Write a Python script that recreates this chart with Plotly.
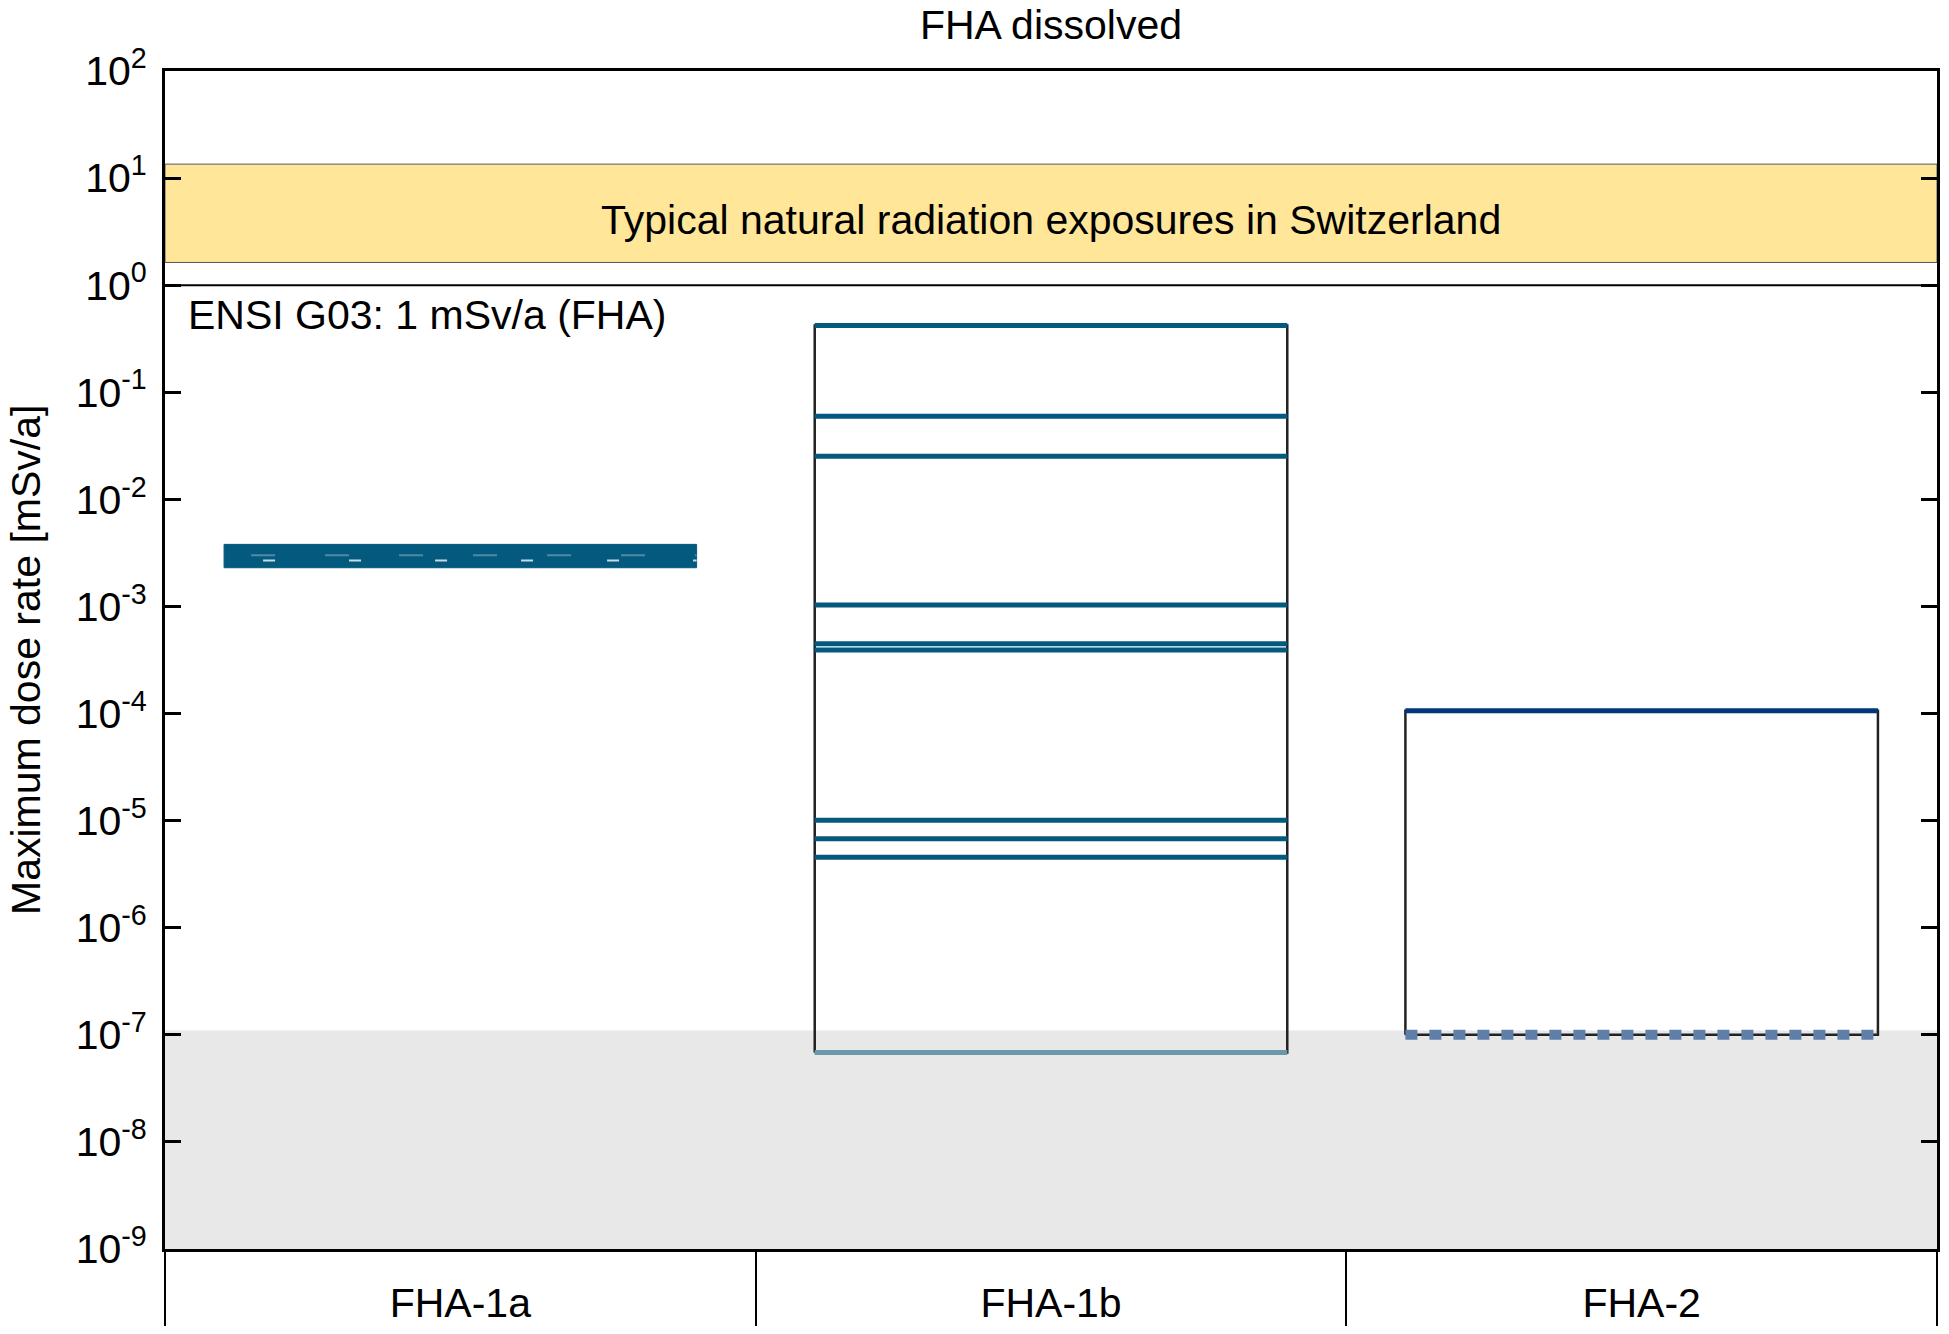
import plotly.graph_objects as go

# Категории (сценарии) и их позиции на оси x
categories = ["FHA-1a", "FHA-1b", "FHA-2"]
cat_pos = [0.5, 1.5, 2.5]
box_half = 0.4

# Диапазоны фона, mSv/a
natural_band = [1.63, 13.5]
negligible_band = [1e-9, 1.1e-7]
ensi_limit = 1.0

# FHA-1a: плотная полоса из множества кривых
fha1a_band = [2.3e-3, 3.8e-3]
fha1a_inner = [3.0e-3, 2.68e-3]

# FHA-1b: максимальные дозы отдельных случаев
fha1b_lines = [0.42, 0.0596, 0.0253, 1.03e-3, 4.49e-4, 3.93e-4,
               1.01e-5, 6.78e-6, 4.54e-6]
fha1b_low = 6.84e-8

# FHA-2
fha2_top = 1.06e-4
fha2_low = 1.0e-7

y_ticks = [10.0 ** k for k in range(-9, 3)]
y_ticktext = ["10<sup>%d</sup>" % k for k in range(-9, 3)]

FONT = "Liberation Sans, Arial, sans-serif"
DARK = "#035A7E"

fig = go.Figure()

# серая область (пренебрежимо малые дозы)
lo, hi = negligible_band
fig.add_trace(go.Scatter(x=[0, 3, 3, 0, 0], y=[lo, lo, hi, hi, lo], fill="toself",
                         fillcolor="#E8E8E8", line=dict(width=0), mode="lines"))

# естественный радиационный фон
lo, hi = natural_band
fig.add_trace(go.Scatter(x=[0, 3, 3, 0, 0], y=[lo, lo, hi, hi, lo], fill="toself",
                         fillcolor="#FFE699", line=dict(color="#555555", width=1),
                         mode="lines"))

# предел ENSI G03
fig.add_trace(go.Scatter(x=[0, 3], y=[ensi_limit, ensi_limit], mode="lines",
                         line=dict(color="black", width=2)))

# FHA-1a
x0, x1 = cat_pos[0] - box_half, cat_pos[0] + box_half
lo, hi = fha1a_band
fig.add_trace(go.Scatter(x=[x0, x1, x1, x0, x0], y=[lo, lo, hi, hi, lo], fill="toself",
                         fillcolor=DARK, line=dict(color=DARK, width=1), mode="lines"))
fig.add_trace(go.Scatter(x=[x0, x1], y=[fha1a_inner[0]] * 2, mode="lines",
                         line=dict(color="#4F8BA5", width=2, dash="0px,27px,24px,23px")))
fig.add_trace(go.Scatter(x=[x0, x1], y=[fha1a_inner[1]] * 2, mode="lines",
                         line=dict(color="#C9DAE2", width=2, dash="0px,39px,12px,35px")))

# FHA-1b
x0, x1 = cat_pos[1] - box_half, cat_pos[1] + box_half
top = max(fha1b_lines)
fig.add_trace(go.Scatter(x=[x0, x0, x1, x1, x0], y=[fha1b_low, top, top, fha1b_low, fha1b_low],
                         mode="lines", line=dict(color="#222222", width=2.5)))
for v in fha1b_lines:
    fig.add_trace(go.Scatter(x=[x0, x1], y=[v, v], mode="lines",
                             line=dict(color=DARK, width=5)))
fig.add_trace(go.Scatter(x=[x0, x1], y=[fha1b_low, fha1b_low], mode="lines",
                         line=dict(color="#6A97AA", width=5)))

# FHA-2
x0, x1 = cat_pos[2] - box_half, cat_pos[2] + box_half
fig.add_trace(go.Scatter(x=[x0, x0, x1, x1, x0], y=[fha2_low, fha2_top, fha2_top, fha2_low, fha2_low],
                         mode="lines", line=dict(color="#222222", width=2.5)))
fig.add_trace(go.Scatter(x=[x0, x1], y=[fha2_top, fha2_top], mode="lines",
                         line=dict(color="#03367A", width=5)))
fig.add_trace(go.Scatter(x=[x0, x1], y=[fha2_low, fha2_low], mode="lines",
                         line=dict(color="#5F7FAA", width=10, dash="12px,12px")))

fig.add_annotation(x=1.5, y=0.61, yref="y", text="Typical natural radiation exposures in Switzerland",
                   showarrow=False, font=dict(size=41, color="black", family=FONT))
fig.add_annotation(x=0, y=0, xref="x", yref="y", xanchor="left", yanchor="top",
                   xshift=21, yshift=-5, text="ENSI G03: 1 mSv/a (FHA)",
                   showarrow=False, font=dict(size=41, color="black", family=FONT))
# подпись оси y
fig.add_annotation(x=0, y=0.5, xref="paper", yref="paper", xanchor="center", yanchor="middle",
                   xshift=-139, textangle=-90, text="Maximum dose rate [mSv/a]",
                   showarrow=False, font=dict(size=41, color="black", family=FONT))

# страница имеет отступ 8px, поэтому фигура чуть меньше окна
fig.update_layout(
    width=1933, height=1318,
    margin=dict(l=157, r=4, t=63, b=77),
    paper_bgcolor="white", plot_bgcolor="white",
    showlegend=False,
    font=dict(family=FONT, size=41, color="black"),
    title=dict(text="FHA dissolved", x=0.5, xref="paper", y=1 - 17 / 1318,
               yanchor="middle", font=dict(size=41, family=FONT)),
)
fig.update_xaxes(range=[0, 3], tickvals=cat_pos, ticktext=categories, ticks="",
                 showline=True, linecolor="black", linewidth=3, mirror=True,
                 showgrid=False, zeroline=False, ticklabelstandoff=16, automargin=False,
                 minor=dict(tickvals=[0, 1, 2, 3], ticks="outside", ticklen=80,
                            tickwidth=2, tickcolor="black"))
fig.update_yaxes(type="log", range=[-9, 2], tickvals=y_ticks, ticktext=y_ticktext,
                 ticks="inside", ticklen=16, tickwidth=3, tickcolor="black",
                 showline=True, linecolor="black", linewidth=3, mirror="ticks",
                 showgrid=False, zeroline=False, ticklabelstandoff=7,
                 automargin=False)

fig.write_html("out.html")
